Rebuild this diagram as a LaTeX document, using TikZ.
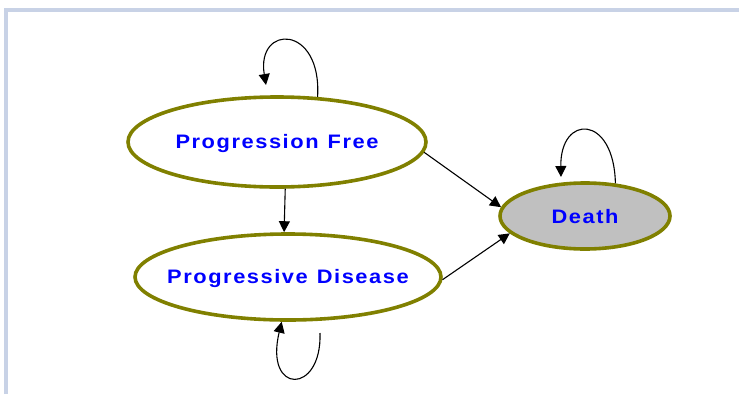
\documentclass[tikz,border=0pt]{standalone}
\usepackage{fontspec}
\setmainfont{Liberation Sans}
\usetikzlibrary{shapes.geometric,arrows.meta}
\definecolor{olivebd}{RGB}{128,128,0}
\definecolor{framebd}{RGB}{200,210,230}
\newcommand{\gap}{\hspace{9pt}}
\begin{document}
\begin{tikzpicture}[x=1pt,y=-1pt,
  state/.style={draw=olivebd, line width=3.6pt, ellipse, fill=white, inner sep=0pt},
  statetext/.style={font=\fontsize{19.5}{24}\selectfont\bfseries\addfontfeatures{FakeStretch=1.12,LetterSpace=8}, text=blue, yshift=-1pt},
  arr/.style={-{Triangle[length=11pt,width=11pt]}, line width=1.1pt}]
\useasboundingbox (0,0) rectangle (739,394);
\draw[framebd, line width=4pt] (6,394) -- (6,10) -- (739,10);

\node[state, minimum width=298pt, minimum height=90pt,
  label={[statetext]center:Progression\gap Free}] (pf) at (277,142) {};
\node[state, minimum width=306pt, minimum height=86pt,
  label={[statetext]center:Progressive\gap Disease}] (pd) at (288,277) {};
\node[state, fill={rgb,255:red,192;green,192;blue,192}, minimum width=170pt, minimum height=66pt,
  label={[statetext]center:Death}] (death) at (585,216) {};

\coordinate (pfloop) at (266,85);
\coordinate (pdloop) at (320,333);
\coordinate (deathloop) at (561,177);

\draw[arr] (pf.48) .. controls (322,24) and (256,24) .. (pfloop);
\draw[arr] (pdloop) .. controls (322,395) and (264,395) .. (pd.262);
\draw[arr] (death.47) .. controls (614,114) and (560,114) .. (deathloop);

\draw[arr] (pf.-80) -- (pd.95);
\draw[arr] (pf.-4) -- (death.174);
\draw[arr] (pd.-1) -- (death.193);
\end{tikzpicture}
\end{document}
